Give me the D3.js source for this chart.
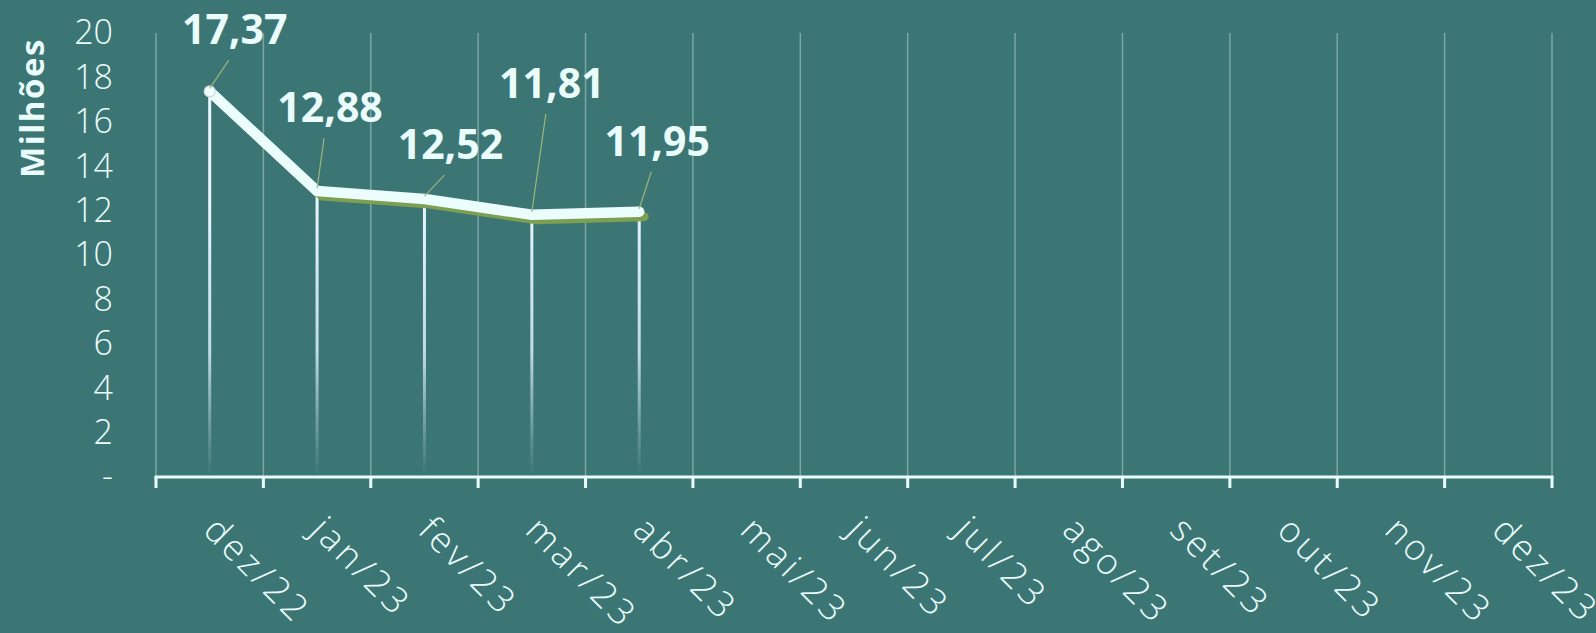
<!DOCTYPE html>
<html>
<head>
<meta charset="utf-8">
<script src="https://cdn.jsdelivr.net/npm/d3@7"></script>
<style>
  html, body { margin: 0; padding: 0; background: #3b7674; }
  svg { display: block; }
  text { fill: #eafcfc; }
</style>
</head>
<body>
<svg id="chart" width="1596" height="633"></svg>
<script>
const months = ['dez/22', 'jan/23', 'fev/23', 'mar/23', 'abr/23', 'mai/23', 'jun/23',
  'jul/23', 'ago/23', 'set/23', 'out/23', 'nov/23', 'dez/23'];
const values = [17.37, 12.88, 12.52, 11.81, 11.95];
const valueLabels = ['17,37', '12,88', '12,52', '11,81', '11,95'];
const yTicks = [0, 2, 4, 6, 8, 10, 12, 14, 16, 18, 20];
const yTitle = 'Milhões';

// label placement (offset of label centre / baseline from its point)
const labelOffsets = [[25, -47], [13, -69], [26, -40], [20, -117], [18, -56]];

const svg = d3.select('#chart');
const series = values.map((v, i) => ({ month: months[i], value: v, label: valueLabels[i], off: labelOffsets[i] }));

let x = d3.scaleBand().domain(months).range([156, 1552]).paddingInner(0).paddingOuter(0);
let y = d3.scaleLinear().domain([0, 20]).range([477, 33]);
const cx = (m) => x(m) + x.bandwidth() / 2;

const defs = svg.append('defs');
const grad = defs.append('linearGradient')
  .attr('id', 'dropFade')
  .attr('gradientUnits', 'userSpaceOnUse')
  .attr('x1', 0).attr('x2', 0)
  .attr('y1', 200).attr('y2', y(0));
grad.append('stop').attr('offset', '0%').attr('stop-color', '#eaf6ff').attr('stop-opacity', 1);
grad.append('stop').attr('offset', '55%').attr('stop-color', '#d8ecfa').attr('stop-opacity', 0.85);
grad.append('stop').attr('offset', '100%').attr('stop-color', '#c0dde8').attr('stop-opacity', 0);

// vertical gridlines at band edges
let edges = months.map((m) => x(m)).concat([x.range()[1]]);
svg.append('g')
  .selectAll('line')
  .data(edges)
  .join('line')
  .attr('x1', (d) => d).attr('x2', (d) => d)
  .attr('y1', y(20)).attr('y2', y(0))
  .attr('stroke', '#77a7a6')
  .attr('stroke-width', 1.5);

// y axis labels
let yAxis = d3.axisLeft(y)
  .tickValues(yTicks)
  .tickSize(0)
  .tickPadding(43)
  .tickFormat((d) => (d === 0 ? '-' : d));
let yg = svg.append('g').attr('transform', 'translate(156,0)').call(yAxis);
yg.select('.domain').remove();
yg.selectAll('text')
  .attr('fill', '#eafcfc')
  .style('font-family', '"Open Sans", sans-serif')
  .style('font-weight', 300)
  .style('font-size', '34px');

svg.append('text')
  .attr('transform', 'translate(31,108) rotate(-90)')
  .attr('text-anchor', 'middle')
  .attr('dominant-baseline', 'central')
  .style('font-family', '"Open Sans", sans-serif')
  .style('font-weight', 700)
  .style('font-size', '33px')
  .style('letter-spacing', '1.5px')
  .text(yTitle);

// drop lines
svg.append('g')
  .selectAll('line')
  .data(series)
  .join('line')
  .attr('x1', (d) => cx(d.month)).attr('x2', (d) => cx(d.month))
  .attr('y1', (d) => y(d.value)).attr('y2', y(0))
  .attr('stroke', 'url(#dropFade)')
  .attr('stroke-width', 3);

// x axis line + ticks at band edges
svg.append('line')
  .attr('x1', x.range()[0] - 1.5).attr('x2', x.range()[1] + 1.5)
  .attr('y1', y(0)).attr('y2', y(0))
  .attr('stroke', '#eafcfc')
  .attr('stroke-width', 3);
svg.append('g')
  .selectAll('line')
  .data(edges)
  .join('line')
  .attr('x1', (d) => d).attr('x2', (d) => d)
  .attr('y1', y(0)).attr('y2', y(0) + 11)
  .attr('stroke', '#eafcfc')
  .attr('stroke-width', 3);

let xAxis = d3.axisBottom(x).tickSize(0);
let xg = svg.append('g').attr('transform', `translate(0,${y(0)})`).call(xAxis);
xg.select('.domain').remove();
xg.selectAll('text')
  .attr('fill', '#dff3f5')
  .attr('x', 0).attr('y', 0).attr('dy', 0)
  .attr('text-anchor', 'start')
  .attr('transform', 'translate(-8,55) rotate(45)')
  .style('font-family', '"Open Sans", sans-serif')
  .style('font-weight', 300)
  .style('font-size', '36px')
  .style('letter-spacing', '3.5px');

// line with green shadow
let line = d3.line().x((d) => cx(d.month)).y((d) => y(d.value));
svg.append('path')
  .datum(series)
  .attr('d', line)
  .attr('transform', 'translate(5,5)')
  .attr('fill', 'none')
  .attr('stroke', '#7c9f52')
  .attr('stroke-width', 9)
  .attr('stroke-linejoin', 'round')
  .attr('stroke-linecap', 'round');
svg.append('path')
  .datum(series)
  .attr('d', line)
  .attr('fill', 'none')
  .attr('stroke', '#ebfdfd')
  .attr('stroke-width', 10.5)
  .attr('stroke-linejoin', 'round')
  .attr('stroke-linecap', 'round');

svg.append('circle')
  .attr('cx', cx(series[0].month))
  .attr('cy', y(series[0].value))
  .attr('r', 5.5)
  .attr('fill', '#f2ffff')
  .attr('stroke', '#c9d9d9')
  .attr('stroke-width', 1.2);

// leader lines and labels
svg.append('g')
  .selectAll('line')
  .data(series)
  .join('line')
  .attr('x1', (d) => cx(d.month) + d.off[0] - 6)
  .attr('y1', (d) => y(d.value) + d.off[1] + 16)
  .attr('x2', (d) => cx(d.month))
  .attr('y2', (d) => y(d.value) - 3)
  .attr('stroke', '#9db47c')
  .attr('stroke-width', 1.2);

svg.append('g')
  .selectAll('text')
  .data(series)
  .join('text')
  .attr('x', (d) => cx(d.month) + d.off[0])
  .attr('y', (d) => y(d.value) + d.off[1])
  .attr('text-anchor', 'middle')
  .style('font-family', '"Open Sans", sans-serif')
  .style('font-weight', 700)
  .style('font-size', '41px')
  .text((d) => d.label);
</script>
</body>
</html>
